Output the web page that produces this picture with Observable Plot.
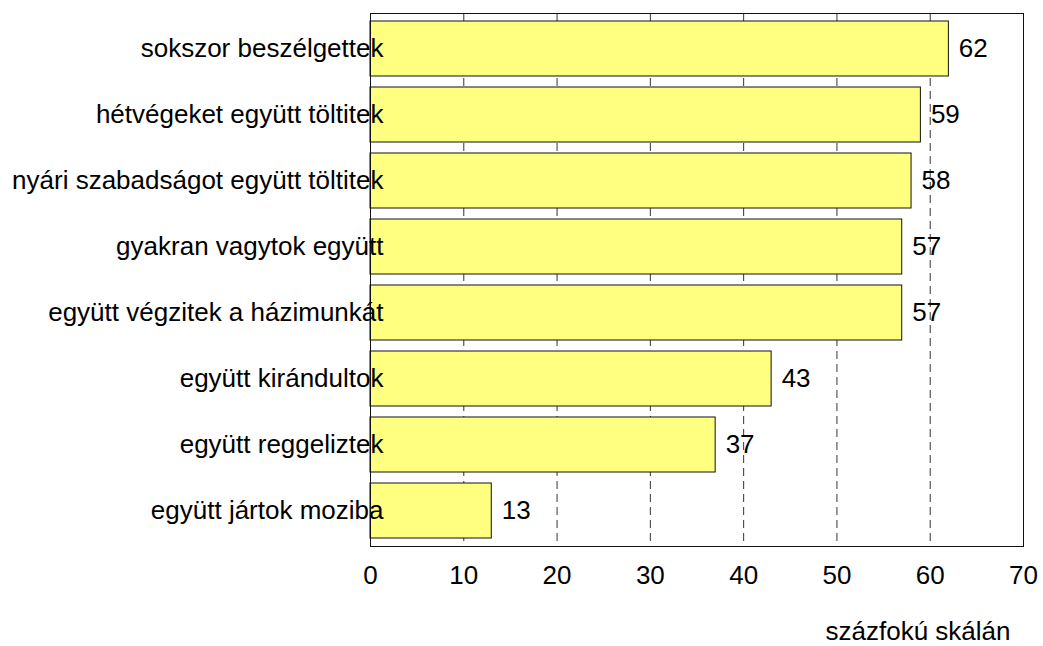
<!DOCTYPE html>
<html>
<head>
<meta charset="utf-8">
<script src="https://cdn.jsdelivr.net/npm/d3@7"></script>
<script src="https://cdn.jsdelivr.net/npm/@observablehq/plot@0.6"></script>
<style>
  html, body { margin: 0; padding: 0; background: #fff; }
  #chart svg { display: block; }
</style>
</head>
<body>
<div id="chart"></div>
<script>
const categories = [
  "sokszor beszélgettek",
  "hétvégeket együtt töltitek",
  "nyári szabadságot együtt töltitek",
  "gyakran vagytok együtt",
  "együtt végzitek a házimunkát",
  "együtt kirándultok",
  "együtt reggeliztek",
  "együtt jártok moziba"
];
const values = [62, 59, 58, 57, 57, 43, 37, 13];
const xTicks = [0, 10, 20, 30, 40, 50, 60, 70];
const gridTicks = [10, 20, 30, 40, 50, 60];
const axisTitle = "százfokú skálán";

const data = categories.map((c, i) => ({category: c, value: values[i]}));

const chart = Plot.plot({
  width: 1043,
  height: 646,
  marginLeft: 370,
  marginRight: 20,
  marginTop: 13,
  marginBottom: 100,
  style: {fontFamily: "Liberation Sans, Arial, sans-serif", fontSize: "26px", color: "#000", background: "#fff"},
  x: {domain: [0, 70], ticks: xTicks, label: null},
  y: {domain: categories, paddingInner: 0.16, paddingOuter: 0.09, label: null, axis: null},
  marks: [
    Plot.ruleX(gridTicks, {stroke: "#000", strokeOpacity: 0.8, strokeDasharray: "8,5", strokeWidth: 1}),
    Plot.barX(data, {x: "value", y: "category", fill: "#FFFF80", stroke: "#111", strokeWidth: 1}),
    Plot.frame({stroke: "#111", strokeWidth: 1}),
    Plot.axisX({ticks: xTicks, tickSize: 0, tickPadding: 19, fontSize: 26, label: null}),
    Plot.text(data, {y: "category", text: "category", frameAnchor: "left", dx: 13, textAnchor: "end", fontSize: 26, fill: "#000"}),
    Plot.text(data, {x: "value", y: "category", text: d => String(d.value), dx: 10, textAnchor: "start", fontSize: 26, fill: "#000"}),
    Plot.text([axisTitle], {text: d => d, frameAnchor: "bottom-right", dx: -13, dy: 93, textAnchor: "end", fontSize: 26, fill: "#000"})
  ]
});
document.getElementById("chart").appendChild(chart);
</script>
</body>
</html>
